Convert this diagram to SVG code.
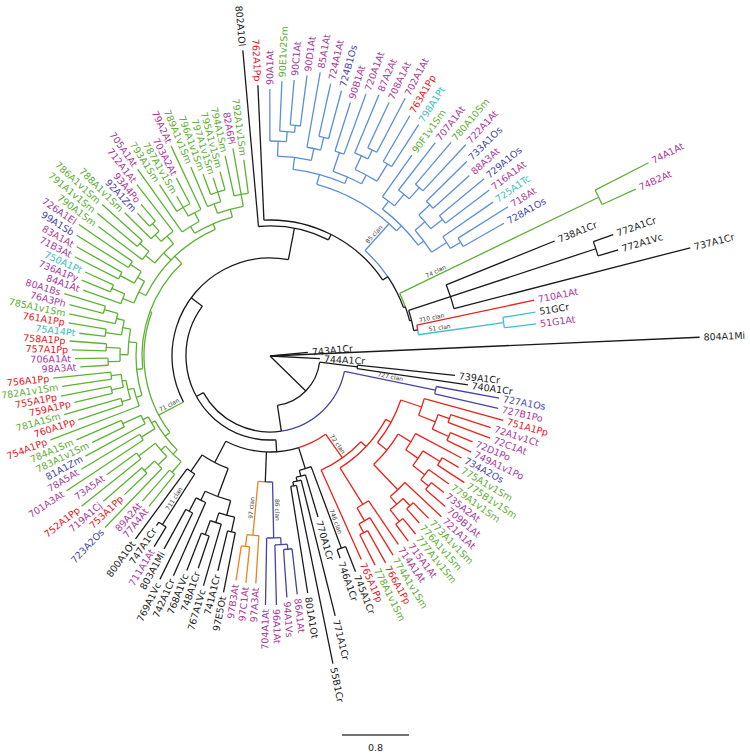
<svg xmlns="http://www.w3.org/2000/svg" width="750" height="754" viewBox="0 0 750 754">
<style>
.k,.lb,.g,.r,.db,.o,.c{fill:none;stroke-width:1.3}
.k{stroke:#1a1a1a}.lb{stroke:#5b8fd6}.g{stroke:#5db234}.r{stroke:#e8231a}.db{stroke:#4444a2}.o{stroke:#f0821e}.c{stroke:#3fc0c6}
text{font-family:"DejaVu Sans","Liberation Sans",sans-serif;font-size:9.5px;dominant-baseline:central}
.e{text-anchor:end}
.tk{fill:#1c1c1c}.tm{fill:#a93a9a}.tg{fill:#5dae33}.tr{fill:#e5161d}.tb{fill:#4848a6}.tc{fill:#3dbdc6}
.cl{font-size:6px;fill:#3a3a3a;text-anchor:middle;dominant-baseline:auto}
</style>
<rect width="750" height="754" fill="#fff"/>
<g transform="translate(270 356)">
<g id="connectors">
<circle class="k" r="50" pathLength="360" stroke-dasharray="74.28 400" transform="rotate(7.15)"/>
<circle class="k" r="88" pathLength="360" stroke-dasharray="2.3 400" transform="rotate(6)"/>
<circle class="db" r="76" pathLength="360" stroke-dasharray="69.77 400" transform="rotate(11.66)"/>
<circle class="k" r="76" pathLength="360" stroke-dasharray="69.77 400" transform="rotate(81.43)"/>
<circle class="db" r="169" pathLength="360" stroke-dasharray="2.52 400" transform="rotate(10.4)"/>
<circle class="k" r="84" pathLength="360" stroke-dasharray="130.4 400" transform="rotate(86)"/>
<circle class="r" r="96" pathLength="360" stroke-dasharray="18.02 400" transform="rotate(54.59)"/>
<circle class="k" r="96" pathLength="360" stroke-dasharray="44.81 400" transform="rotate(72.61)"/>
<circle class="r" r="125" pathLength="360" stroke-dasharray="22.5 400" transform="rotate(43.34)"/>
<circle class="r" r="132" pathLength="360" stroke-dasharray="29.26 400" transform="rotate(28.71)"/>
<circle class="r" r="138" pathLength="360" stroke-dasharray="20.24 400" transform="rotate(18.59)"/>
<circle class="r" r="160" pathLength="360" stroke-dasharray="6.3 400" transform="rotate(15.44)"/>
<circle class="r" r="178" pathLength="360" stroke-dasharray="5.04 400" transform="rotate(19.22)"/>
<circle class="r" r="190" pathLength="360" stroke-dasharray="2.52 400" transform="rotate(17.96)"/>
<circle class="r" r="196" pathLength="360" stroke-dasharray="2.52 400" transform="rotate(23)"/>
<circle class="r" r="150" pathLength="360" stroke-dasharray="14.96 400" transform="rotate(31.35)"/>
<circle class="r" r="165" pathLength="360" stroke-dasharray="6.62 400" transform="rotate(28.04)"/>
<circle class="r" r="180" pathLength="360" stroke-dasharray="5.67 400" transform="rotate(31.82)"/>
<circle class="r" r="200" pathLength="360" stroke-dasharray="2.52 400" transform="rotate(30.56)"/>
<circle class="r" r="195" pathLength="360" stroke-dasharray="3.78 400" transform="rotate(35.6)"/>
<circle class="r" r="205" pathLength="360" stroke-dasharray="2.52 400" transform="rotate(38.12)"/>
<circle class="r" r="185" pathLength="360" stroke-dasharray="6.3 400" transform="rotate(43.16)"/>
<circle class="r" r="195" pathLength="360" stroke-dasharray="5.04 400" transform="rotate(46.94)"/>
<circle class="r" r="205" pathLength="360" stroke-dasharray="2.52 400" transform="rotate(45.68)"/>
<circle class="r" r="210" pathLength="360" stroke-dasharray="2.52 400" transform="rotate(50.72)"/>
<circle class="r" r="175" pathLength="360" stroke-dasharray="4.41 400" transform="rotate(55.76)"/>
<circle class="r" r="190" pathLength="360" stroke-dasharray="3.78 400" transform="rotate(58.28)"/>
<circle class="r" r="200" pathLength="360" stroke-dasharray="2.52 400" transform="rotate(60.8)"/>
<circle class="k" r="118" pathLength="360" stroke-dasharray="5.98 400" transform="rotate(69.62)"/>
<circle class="k" r="205" pathLength="360" stroke-dasharray="2.52 400" transform="rotate(68.36)"/>
<circle class="k" r="124" pathLength="360" stroke-dasharray="4.41 400" transform="rotate(73.4)"/>
<circle class="k" r="128" pathLength="360" stroke-dasharray="3.78 400" transform="rotate(75.92)"/>
<circle class="k" r="132" pathLength="360" stroke-dasharray="2.52 400" transform="rotate(78.44)"/>
<circle class="db" r="126" pathLength="360" stroke-dasharray="3.31 400" transform="rotate(88.84)"/>
<circle class="o" r="126" pathLength="360" stroke-dasharray="3.3 400" transform="rotate(92.15)"/>
<circle class="db" r="182" pathLength="360" stroke-dasharray="4.41 400" transform="rotate(86.63)"/>
<circle class="db" r="189" pathLength="360" stroke-dasharray="3.78 400" transform="rotate(84.74)"/>
<circle class="db" r="194" pathLength="360" stroke-dasharray="2.52 400" transform="rotate(83.48)"/>
<circle class="o" r="180" pathLength="360" stroke-dasharray="3.78 400" transform="rotate(93.56)"/>
<circle class="o" r="192" pathLength="360" stroke-dasharray="2.52 400" transform="rotate(96.08)"/>
<circle class="k" r="120" pathLength="360" stroke-dasharray="14.02 400" transform="rotate(110.41)"/>
<circle class="k" r="150" pathLength="360" stroke-dasharray="10.39 400" transform="rotate(105.22)"/>
<circle class="k" r="165" pathLength="360" stroke-dasharray="5.67 400" transform="rotate(102.38)"/>
<circle class="k" r="180" pathLength="360" stroke-dasharray="2.52 400" transform="rotate(101.12)"/>
<circle class="k" r="175" pathLength="360" stroke-dasharray="3.78 400" transform="rotate(106.16)"/>
<circle class="k" r="190" pathLength="360" stroke-dasharray="2.52 400" transform="rotate(108.68)"/>
<circle class="k" r="160" pathLength="360" stroke-dasharray="3.78 400" transform="rotate(113.72)"/>
<circle class="k" r="175" pathLength="360" stroke-dasharray="2.52 400" transform="rotate(116.24)"/>
<circle class="k" r="140" pathLength="360" stroke-dasharray="3.78 400" transform="rotate(122.54)"/>
<circle class="k" r="200" pathLength="360" stroke-dasharray="2.52 400" transform="rotate(121.28)"/>
<circle class="k" r="98" pathLength="360" stroke-dasharray="128.8 400" transform="rotate(152)"/>
<circle class="g" r="126" pathLength="360" stroke-dasharray="57.67 400" transform="rotate(142.63)"/>
<circle class="g" r="132" pathLength="360" stroke-dasharray="15.91 400" transform="rotate(134.67)"/>
<circle class="g" r="138" pathLength="360" stroke-dasharray="9.14 400" transform="rotate(130.1)"/>
<circle class="g" r="152" pathLength="360" stroke-dasharray="2.52 400" transform="rotate(128.84)"/>
<circle class="g" r="144" pathLength="360" stroke-dasharray="6.93 400" transform="rotate(135.77)"/>
<circle class="g" r="156" pathLength="360" stroke-dasharray="3.78 400" transform="rotate(133.88)"/>
<circle class="g" r="170" pathLength="360" stroke-dasharray="2.52 400" transform="rotate(136.4)"/>
<circle class="g" r="165" pathLength="360" stroke-dasharray="2.52 400" transform="rotate(141.44)"/>
<circle class="g" r="136" pathLength="360" stroke-dasharray="5.67 400" transform="rotate(147.74)"/>
<circle class="g" r="152" pathLength="360" stroke-dasharray="2.52 400" transform="rotate(146.48)"/>
<circle class="g" r="142" pathLength="360" stroke-dasharray="3.78 400" transform="rotate(151.52)"/>
<circle class="g" r="162" pathLength="360" stroke-dasharray="2.52 400" transform="rotate(154.04)"/>
<circle class="g" r="128" pathLength="360" stroke-dasharray="52.05 400" transform="rotate(174.28)"/>
<circle class="g" r="134" pathLength="360" stroke-dasharray="22.84 400" transform="rotate(162.86)"/>
<circle class="g" r="140" pathLength="360" stroke-dasharray="7.56 400" transform="rotate(159.08)"/>
<circle class="g" r="146" pathLength="360" stroke-dasharray="7.56 400" transform="rotate(162.86)"/>
<circle class="g" r="155" pathLength="360" stroke-dasharray="2.52 400" transform="rotate(161.6)"/>
<circle class="g" r="150" pathLength="360" stroke-dasharray="5.04 400" transform="rotate(167.9)"/>
<circle class="g" r="162" pathLength="360" stroke-dasharray="2.52 400" transform="rotate(166.64)"/>
<circle class="g" r="160" pathLength="360" stroke-dasharray="2.52 400" transform="rotate(171.68)"/>
<circle class="g" r="142" pathLength="360" stroke-dasharray="10.4 400" transform="rotate(180.5)"/>
<circle class="g" r="150" pathLength="360" stroke-dasharray="5.04 400" transform="rotate(177.98)"/>
<circle class="g" r="162" pathLength="360" stroke-dasharray="2.52 400" transform="rotate(176.72)"/>
<circle class="g" r="164" pathLength="360" stroke-dasharray="2.52 400" transform="rotate(181.76)"/>
<circle class="g" r="150" pathLength="360" stroke-dasharray="5.67 400" transform="rotate(188.06)"/>
<circle class="g" r="166" pathLength="360" stroke-dasharray="2.52 400" transform="rotate(186.8)"/>
<circle class="g" r="158" pathLength="360" stroke-dasharray="3.78 400" transform="rotate(191.84)"/>
<circle class="g" r="172" pathLength="360" stroke-dasharray="2.52 400" transform="rotate(194.36)"/>
<circle class="g" r="138" pathLength="360" stroke-dasharray="40.65 400" transform="rotate(206)"/>
<circle class="g" r="146" pathLength="360" stroke-dasharray="9.45 400" transform="rotate(201.29)"/>
<circle class="g" r="158" pathLength="360" stroke-dasharray="3.78 400" transform="rotate(199.4)"/>
<circle class="g" r="172" pathLength="360" stroke-dasharray="2.52 400" transform="rotate(201.92)"/>
<circle class="g" r="154" pathLength="360" stroke-dasharray="5.04 400" transform="rotate(208.22)"/>
<circle class="g" r="170" pathLength="360" stroke-dasharray="2.52 400" transform="rotate(206.96)"/>
<circle class="g" r="167" pathLength="360" stroke-dasharray="2.52 400" transform="rotate(212)"/>
<circle class="g" r="148" pathLength="360" stroke-dasharray="10.4 400" transform="rotate(218.93)"/>
<circle class="g" r="160" pathLength="360" stroke-dasharray="3.78 400" transform="rotate(217.04)"/>
<circle class="g" r="172" pathLength="360" stroke-dasharray="2.52 400" transform="rotate(219.56)"/>
<circle class="g" r="158" pathLength="360" stroke-dasharray="5.67 400" transform="rotate(226.49)"/>
<circle class="g" r="167" pathLength="360" stroke-dasharray="3.78 400" transform="rotate(224.6)"/>
<circle class="g" r="177" pathLength="360" stroke-dasharray="2.52 400" transform="rotate(227.12)"/>
<circle class="g" r="144" pathLength="360" stroke-dasharray="16.38 400" transform="rotate(238.46)"/>
<circle class="g" r="152" pathLength="360" stroke-dasharray="7.56 400" transform="rotate(234.68)"/>
<circle class="g" r="162" pathLength="360" stroke-dasharray="5.04 400" transform="rotate(239.72)"/>
<circle class="g" r="172" pathLength="360" stroke-dasharray="5.04 400" transform="rotate(237.2)"/>
<circle class="g" r="152" pathLength="360" stroke-dasharray="10.08 400" transform="rotate(249.8)"/>
<circle class="g" r="162" pathLength="360" stroke-dasharray="5.04 400" transform="rotate(247.28)"/>
<circle class="g" r="172" pathLength="360" stroke-dasharray="5.04 400" transform="rotate(249.8)"/>
<circle class="g" r="164" pathLength="360" stroke-dasharray="5.04 400" transform="rotate(257.36)"/>
<circle class="k" r="130" pathLength="360" stroke-dasharray="31.78 400" transform="rotate(264.92)"/>
<circle class="k" r="136" pathLength="360" stroke-dasharray="58.59 400" transform="rotate(267.44)"/>
<circle class="lb" r="142" pathLength="360" stroke-dasharray="14.03 400" transform="rotate(312)"/>
<circle class="k" r="142" pathLength="360" stroke-dasharray="14.03 400" transform="rotate(326.03)"/>
<circle class="g" r="144" pathLength="360" stroke-dasharray="5.84 400" transform="rotate(334.22)"/>
<circle class="k" r="144" pathLength="360" stroke-dasharray="5.84 400" transform="rotate(340.06)"/>
<circle class="k" r="146" pathLength="360" stroke-dasharray="8.19 400" transform="rotate(341.78)"/>
<circle class="k" r="190" pathLength="360" stroke-dasharray="7.56 400" transform="rotate(338)"/>
<circle class="k" r="343" pathLength="360" stroke-dasharray="2.52 400" transform="rotate(340.52)"/>
<circle class="r" r="150" pathLength="360" stroke-dasharray="1.89 400" transform="rotate(348.08)"/>
<circle class="c" r="150" pathLength="360" stroke-dasharray="1.89 400" transform="rotate(349.97)"/>
<circle class="c" r="236" pathLength="360" stroke-dasharray="2.52 400" transform="rotate(350.6)"/>
<circle class="g" r="365" pathLength="360" stroke-dasharray="2.52 400" transform="rotate(332.96)"/>
<circle class="lb" r="178" pathLength="360" stroke-dasharray="30.06 400" transform="rotate(285.24)"/>
<circle class="lb" r="188" pathLength="360" stroke-dasharray="16.38 400" transform="rotate(277.05)"/>
<circle class="lb" r="200" pathLength="360" stroke-dasharray="9.76 400" transform="rotate(272.17)"/>
<circle class="lb" r="215" pathLength="360" stroke-dasharray="4.41 400" transform="rotate(269.96)"/>
<circle class="lb" r="225" pathLength="360" stroke-dasharray="3.78 400" transform="rotate(272.48)"/>
<circle class="lb" r="232" pathLength="360" stroke-dasharray="2.52 400" transform="rotate(275)"/>
<circle class="lb" r="212" pathLength="360" stroke-dasharray="3.78 400" transform="rotate(280.04)"/>
<circle class="lb" r="225" pathLength="360" stroke-dasharray="2.52 400" transform="rotate(282.56)"/>
<circle class="lb" r="195" pathLength="360" stroke-dasharray="9.14 400" transform="rotate(288.86)"/>
<circle class="lb" r="215" pathLength="360" stroke-dasharray="2.52 400" transform="rotate(287.6)"/>
<circle class="lb" r="205" pathLength="360" stroke-dasharray="6.93 400" transform="rotate(294.53)"/>
<circle class="lb" r="220" pathLength="360" stroke-dasharray="3.78 400" transform="rotate(292.64)"/>
<circle class="lb" r="230" pathLength="360" stroke-dasharray="2.52 400" transform="rotate(295.16)"/>
<circle class="lb" r="225" pathLength="360" stroke-dasharray="2.52 400" transform="rotate(300.2)"/>
<circle class="lb" r="185" pathLength="360" stroke-dasharray="15.75 400" transform="rotate(307.45)"/>
<circle class="lb" r="195" pathLength="360" stroke-dasharray="4.41 400" transform="rotate(305.24)"/>
<circle class="lb" r="210" pathLength="360" stroke-dasharray="3.78 400" transform="rotate(307.76)"/>
<circle class="lb" r="225" pathLength="360" stroke-dasharray="2.52 400" transform="rotate(310.28)"/>
<circle class="lb" r="192" pathLength="360" stroke-dasharray="8.19 400" transform="rotate(319.1)"/>
<circle class="lb" r="205" pathLength="360" stroke-dasharray="5.04 400" transform="rotate(316.58)"/>
<circle class="lb" r="220" pathLength="360" stroke-dasharray="2.52 400" transform="rotate(315.32)"/>
<circle class="lb" r="220" pathLength="360" stroke-dasharray="2.52 400" transform="rotate(320.36)"/>
<circle class="lb" r="210" pathLength="360" stroke-dasharray="3.78 400" transform="rotate(325.4)"/>
<circle class="lb" r="222" pathLength="360" stroke-dasharray="2.52 400" transform="rotate(327.92)"/>

<line class="k" x2="38" transform="rotate(-5.5)"/>
<line class="k" x2="430" transform="rotate(-2.5)"/>
<line class="k" x2="50" transform="rotate(3)"/>
<line class="k" x2="50" transform="rotate(44.29)"/>
<line class="k" x1="50" x2="88" transform="rotate(7.15)"/>
<line class="k" x1="50" x2="76" transform="rotate(81.43)"/>
<line class="k" x1="88" x2="186" transform="rotate(6)"/>
<line class="k" x1="88" x2="200" transform="rotate(8.3)"/>
<line class="db" x1="76" x2="169" transform="rotate(11.66)"/>
<line class="k" x1="76" x2="84" transform="rotate(151.2)"/>
<line class="db" x1="169" x2="233" transform="rotate(10.4)"/>
<line class="db" x1="169" x2="234" transform="rotate(12.92)"/>
<line class="k" x1="84" x2="96" transform="rotate(86)"/>
<line class="k" x1="84" x2="98" transform="rotate(216.4)"/>
<line class="r" x1="96" x2="125" transform="rotate(54.59)"/>
<line class="k" x1="96" x2="118" transform="rotate(72.61)"/>
<line class="k" x1="96" x2="126" transform="rotate(92.15)"/>
<line class="k" x1="96" x2="120" transform="rotate(117.42)"/>
<line class="r" x1="125" x2="132" transform="rotate(43.34)"/>
<line class="r" x1="125" x2="223" transform="rotate(65.84)"/>
<line class="r" x1="132" x2="138" transform="rotate(28.71)"/>
<line class="r" x1="132" x2="175" transform="rotate(57.97)"/>
<line class="r" x1="138" x2="160" transform="rotate(18.59)"/>
<line class="r" x1="138" x2="150" transform="rotate(38.83)"/>
<line class="r" x1="160" x2="242" transform="rotate(15.44)"/>
<line class="r" x1="160" x2="178" transform="rotate(21.74)"/>
<line class="r" x1="178" x2="190" transform="rotate(19.22)"/>
<line class="r" x1="178" x2="196" transform="rotate(24.26)"/>
<line class="r" x1="190" x2="232" transform="rotate(17.96)"/>
<line class="r" x1="190" x2="235" transform="rotate(20.48)"/>
<line class="r" x1="196" x2="220" transform="rotate(23)"/>
<line class="r" x1="196" x2="223" transform="rotate(25.52)"/>
<line class="r" x1="150" x2="165" transform="rotate(31.35)"/>
<line class="r" x1="150" x2="185" transform="rotate(46.31)"/>
<line class="r" x1="165" x2="217" transform="rotate(28.04)"/>
<line class="r" x1="165" x2="180" transform="rotate(34.66)"/>
<line class="r" x1="180" x2="200" transform="rotate(31.82)"/>
<line class="r" x1="180" x2="195" transform="rotate(37.49)"/>
<line class="r" x1="200" x2="219" transform="rotate(30.56)"/>
<line class="r" x1="200" x2="232" transform="rotate(33.08)"/>
<line class="r" x1="195" x2="220" transform="rotate(35.6)"/>
<line class="r" x1="195" x2="205" transform="rotate(39.38)"/>
<line class="r" x1="205" x2="221" transform="rotate(38.12)"/>
<line class="r" x1="205" x2="231" transform="rotate(40.64)"/>
<line class="r" x1="185" x2="235" transform="rotate(43.16)"/>
<line class="r" x1="185" x2="195" transform="rotate(49.46)"/>
<line class="r" x1="195" x2="205" transform="rotate(46.94)"/>
<line class="r" x1="195" x2="210" transform="rotate(51.98)"/>
<line class="r" x1="205" x2="227" transform="rotate(45.68)"/>
<line class="r" x1="205" x2="224" transform="rotate(48.2)"/>
<line class="r" x1="210" x2="230" transform="rotate(50.72)"/>
<line class="r" x1="210" x2="231" transform="rotate(53.24)"/>
<line class="r" x1="175" x2="228" transform="rotate(55.76)"/>
<line class="r" x1="175" x2="190" transform="rotate(60.17)"/>
<line class="r" x1="190" x2="234" transform="rotate(58.28)"/>
<line class="r" x1="190" x2="200" transform="rotate(62.06)"/>
<line class="r" x1="200" x2="237" transform="rotate(60.8)"/>
<line class="r" x1="200" x2="234" transform="rotate(63.32)"/>
<line class="k" x1="118" x2="205" transform="rotate(69.62)"/>
<line class="k" x1="118" x2="124" transform="rotate(75.6)"/>
<line class="k" x1="205" x2="232" transform="rotate(68.36)"/>
<line class="k" x1="205" x2="214" transform="rotate(70.88)"/>
<line class="k" x1="124" x2="168" transform="rotate(73.4)"/>
<line class="k" x1="124" x2="128" transform="rotate(77.81)"/>
<line class="k" x1="128" x2="268" transform="rotate(75.92)"/>
<line class="k" x1="128" x2="132" transform="rotate(79.7)"/>
<line class="k" x1="132" x2="314" transform="rotate(78.44)"/>
<line class="k" x1="132" x2="240" transform="rotate(80.96)"/>
<line class="db" x1="126" x2="182" transform="rotate(88.84)"/>
<line class="o" x1="126" x2="180" transform="rotate(95.45)"/>
<line class="db" x1="182" x2="189" transform="rotate(86.63)"/>
<line class="db" x1="182" x2="249" transform="rotate(91.04)"/>
<line class="db" x1="189" x2="194" transform="rotate(84.74)"/>
<line class="db" x1="189" x2="249" transform="rotate(88.52)"/>
<line class="db" x1="194" x2="240" transform="rotate(83.48)"/>
<line class="db" x1="194" x2="242" transform="rotate(86)"/>
<line class="o" x1="180" x2="228" transform="rotate(93.56)"/>
<line class="o" x1="180" x2="192" transform="rotate(97.34)"/>
<line class="o" x1="192" x2="228" transform="rotate(96.08)"/>
<line class="o" x1="192" x2="227" transform="rotate(98.6)"/>
<line class="k" x1="120" x2="150" transform="rotate(110.41)"/>
<line class="k" x1="120" x2="140" transform="rotate(124.43)"/>
<line class="k" x1="150" x2="165" transform="rotate(105.22)"/>
<line class="k" x1="150" x2="160" transform="rotate(115.61)"/>
<line class="k" x1="165" x2="180" transform="rotate(102.38)"/>
<line class="k" x1="165" x2="175" transform="rotate(108.05)"/>
<line class="k" x1="180" x2="241" transform="rotate(101.12)"/>
<line class="k" x1="180" x2="221" transform="rotate(103.64)"/>
<line class="k" x1="175" x2="239" transform="rotate(106.16)"/>
<line class="k" x1="175" x2="190" transform="rotate(109.94)"/>
<line class="k" x1="190" x2="224" transform="rotate(108.68)"/>
<line class="k" x1="190" x2="230" transform="rotate(111.2)"/>
<line class="k" x1="160" x2="240" transform="rotate(113.72)"/>
<line class="k" x1="160" x2="175" transform="rotate(117.5)"/>
<line class="k" x1="175" x2="249" transform="rotate(116.24)"/>
<line class="k" x1="175" x2="220" transform="rotate(118.76)"/>
<line class="k" x1="140" x2="200" transform="rotate(122.54)"/>
<line class="k" x1="140" x2="227" transform="rotate(126.32)"/>
<line class="k" x1="200" x2="223" transform="rotate(121.28)"/>
<line class="k" x1="200" x2="204" transform="rotate(123.8)"/>
<line class="g" x1="98" x2="126" transform="rotate(152)"/>
<line class="k" x1="98" x2="130" transform="rotate(280.8)"/>
<line class="g" x1="126" x2="132" transform="rotate(142.63)"/>
<line class="g" x1="126" x2="128" transform="rotate(200.3)"/>
<line class="g" x1="132" x2="138" transform="rotate(134.67)"/>
<line class="g" x1="132" x2="136" transform="rotate(150.58)"/>
<line class="g" x1="138" x2="152" transform="rotate(130.1)"/>
<line class="g" x1="138" x2="144" transform="rotate(139.24)"/>
<line class="g" x1="152" x2="193" transform="rotate(128.84)"/>
<line class="g" x1="152" x2="193" transform="rotate(131.36)"/>
<line class="g" x1="144" x2="156" transform="rotate(135.77)"/>
<line class="g" x1="144" x2="165" transform="rotate(142.7)"/>
<line class="g" x1="156" x2="238" transform="rotate(133.88)"/>
<line class="g" x1="156" x2="170" transform="rotate(137.66)"/>
<line class="g" x1="170" x2="201" transform="rotate(136.4)"/>
<line class="g" x1="170" x2="221" transform="rotate(138.92)"/>
<line class="g" x1="165" x2="241" transform="rotate(141.44)"/>
<line class="g" x1="165" x2="202" transform="rotate(143.96)"/>
<line class="g" x1="136" x2="152" transform="rotate(147.74)"/>
<line class="g" x1="136" x2="142" transform="rotate(153.41)"/>
<line class="g" x1="152" x2="244" transform="rotate(146.48)"/>
<line class="g" x1="152" x2="220" transform="rotate(149)"/>
<line class="g" x1="142" x2="210" transform="rotate(151.52)"/>
<line class="g" x1="142" x2="162" transform="rotate(155.3)"/>
<line class="g" x1="162" x2="198" transform="rotate(154.04)"/>
<line class="g" x1="162" x2="211" transform="rotate(156.56)"/>
<line class="g" x1="128" x2="134" transform="rotate(174.28)"/>
<line class="g" x1="128" x2="138" transform="rotate(226.33)"/>
<line class="g" x1="134" x2="140" transform="rotate(162.86)"/>
<line class="g" x1="134" x2="142" transform="rotate(185.7)"/>
<line class="g" x1="140" x2="235" transform="rotate(159.08)"/>
<line class="g" x1="140" x2="146" transform="rotate(166.64)"/>
<line class="g" x1="146" x2="155" transform="rotate(162.86)"/>
<line class="g" x1="146" x2="150" transform="rotate(170.42)"/>
<line class="g" x1="155" x2="202" transform="rotate(161.6)"/>
<line class="g" x1="155" x2="214" transform="rotate(164.12)"/>
<line class="g" x1="150" x2="162" transform="rotate(167.9)"/>
<line class="g" x1="150" x2="160" transform="rotate(172.94)"/>
<line class="g" x1="162" x2="201" transform="rotate(166.64)"/>
<line class="g" x1="162" x2="213" transform="rotate(169.16)"/>
<line class="g" x1="160" x2="210" transform="rotate(171.68)"/>
<line class="g" x1="160" x2="218" transform="rotate(174.2)"/>
<line class="g" x1="142" x2="150" transform="rotate(180.5)"/>
<line class="g" x1="142" x2="150" transform="rotate(190.9)"/>
<line class="g" x1="150" x2="162" transform="rotate(177.98)"/>
<line class="g" x1="150" x2="164" transform="rotate(183.02)"/>
<line class="g" x1="162" x2="190" transform="rotate(176.72)"/>
<line class="g" x1="162" x2="195" transform="rotate(179.24)"/>
<line class="g" x1="164" x2="198" transform="rotate(181.76)"/>
<line class="g" x1="164" x2="201" transform="rotate(184.28)"/>
<line class="g" x1="150" x2="166" transform="rotate(188.06)"/>
<line class="g" x1="150" x2="158" transform="rotate(193.73)"/>
<line class="g" x1="166" x2="192" transform="rotate(186.8)"/>
<line class="g" x1="166" x2="204" transform="rotate(189.32)"/>
<line class="g" x1="158" x2="205" transform="rotate(191.84)"/>
<line class="g" x1="158" x2="172" transform="rotate(195.62)"/>
<line class="g" x1="172" x2="207" transform="rotate(194.36)"/>
<line class="g" x1="172" x2="215" transform="rotate(196.88)"/>
<line class="g" x1="138" x2="146" transform="rotate(206)"/>
<line class="g" x1="138" x2="148" transform="rotate(224.13)"/>
<line class="g" x1="138" x2="144" transform="rotate(246.65)"/>
<line class="g" x1="146" x2="158" transform="rotate(201.29)"/>
<line class="g" x1="146" x2="154" transform="rotate(210.74)"/>
<line class="g" x1="158" x2="198" transform="rotate(199.4)"/>
<line class="g" x1="158" x2="172" transform="rotate(203.18)"/>
<line class="g" x1="172" x2="203" transform="rotate(201.92)"/>
<line class="g" x1="172" x2="203" transform="rotate(204.44)"/>
<line class="g" x1="154" x2="170" transform="rotate(208.22)"/>
<line class="g" x1="154" x2="167" transform="rotate(213.26)"/>
<line class="g" x1="170" x2="219" transform="rotate(206.96)"/>
<line class="g" x1="170" x2="222" transform="rotate(209.48)"/>
<line class="g" x1="167" x2="228" transform="rotate(212)"/>
<line class="g" x1="167" x2="232" transform="rotate(214.52)"/>
<line class="g" x1="148" x2="160" transform="rotate(218.93)"/>
<line class="g" x1="148" x2="158" transform="rotate(229.33)"/>
<line class="g" x1="160" x2="215" transform="rotate(217.04)"/>
<line class="g" x1="160" x2="172" transform="rotate(220.82)"/>
<line class="g" x1="172" x2="224" transform="rotate(219.56)"/>
<line class="g" x1="172" x2="226" transform="rotate(222.08)"/>
<line class="g" x1="158" x2="167" transform="rotate(226.49)"/>
<line class="g" x1="158" x2="217" transform="rotate(232.16)"/>
<line class="g" x1="167" x2="204" transform="rotate(224.6)"/>
<line class="g" x1="167" x2="177" transform="rotate(228.38)"/>
<line class="g" x1="177" x2="195" transform="rotate(227.12)"/>
<line class="g" x1="177" x2="199" transform="rotate(229.64)"/>
<line class="g" x1="144" x2="152" transform="rotate(238.46)"/>
<line class="g" x1="144" x2="152" transform="rotate(254.84)"/>
<line class="g" x1="152" x2="229" transform="rotate(234.68)"/>
<line class="g" x1="152" x2="162" transform="rotate(242.24)"/>
<line class="g" x1="162" x2="172" transform="rotate(239.72)"/>
<line class="g" x1="162" x2="232" transform="rotate(244.76)"/>
<line class="g" x1="172" x2="204" transform="rotate(237.2)"/>
<line class="g" x1="172" x2="185" transform="rotate(239.72)"/>
<line class="g" x1="172" x2="201" transform="rotate(242.24)"/>
<line class="g" x1="152" x2="162" transform="rotate(249.8)"/>
<line class="g" x1="152" x2="164" transform="rotate(259.88)"/>
<line class="g" x1="162" x2="205" transform="rotate(247.28)"/>
<line class="g" x1="162" x2="172" transform="rotate(252.32)"/>
<line class="g" x1="172" x2="194" transform="rotate(249.8)"/>
<line class="g" x1="172" x2="187" transform="rotate(252.32)"/>
<line class="g" x1="172" x2="191" transform="rotate(254.84)"/>
<line class="g" x1="164" x2="205" transform="rotate(257.36)"/>
<line class="g" x1="164" x2="211" transform="rotate(259.88)"/>
<line class="g" x1="164" x2="198" transform="rotate(262.4)"/>
<line class="k" x1="130" x2="307" transform="rotate(264.92)"/>
<line class="k" x1="130" x2="136" transform="rotate(296.7)"/>
<line class="k" x1="136" x2="271" transform="rotate(267.44)"/>
<line class="k" x1="136" x2="142" transform="rotate(326.03)"/>
<line class="lb" x1="142" x2="178" transform="rotate(312)"/>
<line class="k" x1="142" x2="144" transform="rotate(340.06)"/>
<line class="g" x1="144" x2="365" transform="rotate(334.22)"/>
<line class="k" x1="144" x2="146" transform="rotate(345.9)"/>
<line class="k" x1="146" x2="190" transform="rotate(341.78)"/>
<line class="k" x1="146" x2="150" transform="rotate(349.97)"/>
<line class="k" x1="190" x2="307" transform="rotate(338)"/>
<line class="k" x1="190" x2="343" transform="rotate(341.78)"/>
<line class="k" x1="190" x2="434" transform="rotate(345.56)"/>
<line class="k" x1="343" x2="364" transform="rotate(340.52)"/>
<line class="k" x1="343" x2="364" transform="rotate(343.04)"/>
<line class="r" x1="150" x2="270" transform="rotate(348.08)"/>
<line class="c" x1="150" x2="236" transform="rotate(351.86)"/>
<line class="c" x1="236" x2="269" transform="rotate(350.6)"/>
<line class="c" x1="236" x2="268" transform="rotate(353.12)"/>
<line class="g" x1="365" x2="425" transform="rotate(332.96)"/>
<line class="g" x1="365" x2="402" transform="rotate(335.48)"/>
<line class="lb" x1="178" x2="188" transform="rotate(285.24)"/>
<line class="lb" x1="178" x2="185" transform="rotate(315.3)"/>
<line class="lb" x1="188" x2="200" transform="rotate(277.05)"/>
<line class="lb" x1="188" x2="195" transform="rotate(293.43)"/>
<line class="lb" x1="200" x2="215" transform="rotate(272.17)"/>
<line class="lb" x1="200" x2="212" transform="rotate(281.93)"/>
<line class="lb" x1="215" x2="267" transform="rotate(269.96)"/>
<line class="lb" x1="215" x2="225" transform="rotate(274.37)"/>
<line class="lb" x1="225" x2="275" transform="rotate(272.48)"/>
<line class="lb" x1="225" x2="232" transform="rotate(276.26)"/>
<line class="lb" x1="232" x2="277" transform="rotate(275)"/>
<line class="lb" x1="232" x2="283" transform="rotate(277.52)"/>
<line class="lb" x1="212" x2="288" transform="rotate(280.04)"/>
<line class="lb" x1="212" x2="225" transform="rotate(283.82)"/>
<line class="lb" x1="225" x2="279" transform="rotate(282.56)"/>
<line class="lb" x1="225" x2="275" transform="rotate(285.08)"/>
<line class="lb" x1="195" x2="215" transform="rotate(288.86)"/>
<line class="lb" x1="195" x2="205" transform="rotate(298)"/>
<line class="lb" x1="215" x2="266" transform="rotate(287.6)"/>
<line class="lb" x1="215" x2="279" transform="rotate(290.12)"/>
<line class="lb" x1="205" x2="220" transform="rotate(294.53)"/>
<line class="lb" x1="205" x2="225" transform="rotate(301.46)"/>
<line class="lb" x1="220" x2="283" transform="rotate(292.64)"/>
<line class="lb" x1="220" x2="230" transform="rotate(296.42)"/>
<line class="lb" x1="230" x2="280" transform="rotate(295.16)"/>
<line class="lb" x1="230" x2="291" transform="rotate(297.68)"/>
<line class="lb" x1="225" x2="278" transform="rotate(300.2)"/>
<line class="lb" x1="225" x2="275" transform="rotate(302.72)"/>
<line class="lb" x1="185" x2="195" transform="rotate(307.45)"/>
<line class="lb" x1="185" x2="192" transform="rotate(323.2)"/>
<line class="lb" x1="195" x2="246" transform="rotate(305.24)"/>
<line class="lb" x1="195" x2="210" transform="rotate(309.65)"/>
<line class="lb" x1="210" x2="270" transform="rotate(307.76)"/>
<line class="lb" x1="210" x2="225" transform="rotate(311.54)"/>
<line class="lb" x1="225" x2="280" transform="rotate(310.28)"/>
<line class="lb" x1="225" x2="288" transform="rotate(312.8)"/>
<line class="lb" x1="192" x2="205" transform="rotate(319.1)"/>
<line class="lb" x1="192" x2="210" transform="rotate(327.29)"/>
<line class="lb" x1="205" x2="220" transform="rotate(316.58)"/>
<line class="lb" x1="205" x2="220" transform="rotate(321.62)"/>
<line class="lb" x1="220" x2="277" transform="rotate(315.32)"/>
<line class="lb" x1="220" x2="269" transform="rotate(317.84)"/>
<line class="lb" x1="220" x2="278" transform="rotate(320.36)"/>
<line class="lb" x1="220" x2="275" transform="rotate(322.88)"/>
<line class="lb" x1="210" x2="271" transform="rotate(325.4)"/>
<line class="lb" x1="210" x2="222" transform="rotate(329.18)"/>
<line class="lb" x1="222" x2="281" transform="rotate(327.92)"/>
<line class="lb" x1="222" x2="269" transform="rotate(330.44)"/>
</g>
<g id="clan-labels">
<text class="cl" x="122" y="-2" transform="rotate(11.66)">727 clan</text>
<text class="cl" x="111" y="-2" transform="rotate(54.59)">72 clan</text>
<text class="cl" x="178" y="-2" transform="rotate(69.62)">746 clan</text>
<text class="cl" x="154" y="-2" transform="rotate(88.84)">86 clan</text>
<text class="cl" x="-153" y="-2" transform="rotate(-84.55)">97 clan</text>
<text class="cl" x="-172" y="-2" transform="rotate(-57.46)">711 clan</text>
<text class="cl" x="-112" y="-2" transform="rotate(-28)">71 clan</text>
<text class="cl" x="160" y="-2" transform="rotate(312)">85 clan</text>
<text class="cl" x="186" y="-2" transform="rotate(334.22)">74 clan</text>
<text class="cl" x="166" y="-2" transform="rotate(348.08)">710 clan</text>
<text class="cl" x="172" y="-2" transform="rotate(351.86)">51 clan</text>
</g>
<g id="n-743A1Cr"><text class="tk" x="42" transform="rotate(-5.5)">743A1Cr</text></g>
<g id="n-804A1Mi"><text class="tk" x="434" transform="rotate(-2.5)">804A1Mi</text></g>
<g id="n-744A1Cr"><text class="tk" x="54" transform="rotate(3)">744A1Cr</text></g>
<g id="n-739A1Cr"><text class="tk" x="190" transform="rotate(6)">739A1Cr</text></g>
<g id="n-740A1Cr"><text class="tk" x="204" transform="rotate(8.3)">740A1Cr</text></g>
<g id="n-727A1Os"><text class="tb" x="237" transform="rotate(10.4)">727A1Os</text></g>
<g id="n-727B1Po"><text class="tm" x="238" transform="rotate(12.92)">727B1Po</text></g>
<g id="n-751A1Pp"><text class="tr" x="246" transform="rotate(15.44)">751A1Pp</text></g>
<g id="n-72A1v1Ct"><text class="tm" x="236" transform="rotate(17.96)">72A1v1Ct</text></g>
<g id="n-72C1At"><text class="tm" x="239" transform="rotate(20.48)">72C1At</text></g>
<g id="n-72D1Po"><text class="tm" x="224" transform="rotate(23)">72D1Po</text></g>
<g id="n-749A1v1Po"><text class="tm" x="227" transform="rotate(25.52)">749A1v1Po</text></g>
<g id="n-734A2Os"><text class="tb" x="221" transform="rotate(28.04)">734A2Os</text></g>
<g id="n-775A1v1Sm"><text class="tg" x="223" transform="rotate(30.56)">775A1v1Sm</text></g>
<g id="n-775B1v1Sm"><text class="tg" x="236" transform="rotate(33.08)">775B1v1Sm</text></g>
<g id="n-779A1v1Sm"><text class="tg" x="224" transform="rotate(35.6)">779A1v1Sm</text></g>
<g id="n-735A2At"><text class="tm" x="225" transform="rotate(38.12)">735A2At</text></g>
<g id="n-709B1At"><text class="tm" x="235" transform="rotate(40.64)">709B1At</text></g>
<g id="n-721A1At"><text class="tm" x="239" transform="rotate(43.16)">721A1At</text></g>
<g id="n-773A1v1Sm"><text class="tg" x="231" transform="rotate(45.68)">773A1v1Sm</text></g>
<g id="n-776A1v1Sm"><text class="tg" x="228" transform="rotate(48.2)">776A1v1Sm</text></g>
<g id="n-777A1v1Sm"><text class="tg" x="234" transform="rotate(50.72)">777A1v1Sm</text></g>
<g id="n-715A1At"><text class="tm" x="235" transform="rotate(53.24)">715A1At</text></g>
<g id="n-714A1At"><text class="tm" x="232" transform="rotate(55.76)">714A1At</text></g>
<g id="n-774A1v1Sm"><text class="tg" x="238" transform="rotate(58.28)">774A1v1Sm</text></g>
<g id="n-766A1Pp"><text class="tr" x="241" transform="rotate(60.8)">766A1Pp</text></g>
<g id="n-778A1v1Sm"><text class="tg" x="238" transform="rotate(63.32)">778A1v1Sm</text></g>
<g id="n-765A1Pp"><text class="tr" x="227" transform="rotate(65.84)">765A1Pp</text></g>
<g id="n-745A1Cr"><text class="tk" x="236" transform="rotate(68.36)">745A1Cr</text></g>
<g id="n-746A1Cr"><text class="tk" x="218" transform="rotate(70.88)">746A1Cr</text></g>
<g id="n-770A1Cr"><text class="tk" x="172" transform="rotate(73.4)">770A1Cr</text></g>
<g id="n-771A1Cr"><text class="tk" x="272" transform="rotate(75.92)">771A1Cr</text></g>
<g id="n-55B1Cr"><text class="tk" x="318" transform="rotate(78.44)">55B1Cr</text></g>
<g id="n-801A1Ot"><text class="tk" x="244" transform="rotate(80.96)">801A1Ot</text></g>
<g id="n-86A1At"><text class="tm" x="244" transform="rotate(83.48)">86A1At</text></g>
<g id="n-94A1Vs"><text class="tm" x="246" transform="rotate(86)">94A1Vs</text></g>
<g id="n-96A1At"><text class="tm" x="253" transform="rotate(88.52)">96A1At</text></g>
<g id="n-704A1At"><text class="tm e" x="-253" transform="rotate(-88.96)">704A1At</text></g>
<g id="n-97A3At"><text class="tm e" x="-232" transform="rotate(-86.44)">97A3At</text></g>
<g id="n-97C1At"><text class="tm e" x="-232" transform="rotate(-83.92)">97C1At</text></g>
<g id="n-97B3At"><text class="tm e" x="-231" transform="rotate(-81.4)">97B3At</text></g>
<g id="n-97E5Ot"><text class="tk e" x="-245" transform="rotate(-78.88)">97E5Ot</text></g>
<g id="n-741A1Cr"><text class="tk e" x="-225" transform="rotate(-76.36)">741A1Cr</text></g>
<g id="n-767A1Vc"><text class="tk e" x="-243" transform="rotate(-73.84)">767A1Vc</text></g>
<g id="n-748A1Cr"><text class="tk e" x="-228" transform="rotate(-71.32)">748A1Cr</text></g>
<g id="n-768A1Vc"><text class="tk e" x="-234" transform="rotate(-68.8)">768A1Vc</text></g>
<g id="n-742A1Cr"><text class="tk e" x="-244" transform="rotate(-66.28)">742A1Cr</text></g>
<g id="n-769A1Vc"><text class="tk e" x="-253" transform="rotate(-63.76)">769A1Vc</text></g>
<g id="n-803A1Mi"><text class="tk e" x="-224" transform="rotate(-61.24)">803A1Mi</text></g>
<g id="n-711A1At"><text class="tm e" x="-227" transform="rotate(-58.72)">711A1At</text></g>
<g id="n-747A1Cr"><text class="tk e" x="-208" transform="rotate(-56.2)">747A1Cr</text></g>
<g id="n-800A1Ot"><text class="tk e" x="-231" transform="rotate(-53.68)">800A1Ot</text></g>
<g id="n-77A4At"><text class="tm e" x="-197" transform="rotate(-51.16)">77A4At</text></g>
<g id="n-89A2At"><text class="tm e" x="-197" transform="rotate(-48.64)">89A2At</text></g>
<g id="n-723A2Os"><text class="tb e" x="-242" transform="rotate(-46.12)">723A2Os</text></g>
<g id="n-753A1Pp"><text class="tr e" x="-205" transform="rotate(-43.6)">753A1Pp</text></g>
<g id="n-719A1Cj"><text class="tm e" x="-225" transform="rotate(-41.08)">719A1Cj</text></g>
<g id="n-752A1Pp"><text class="tr e" x="-245" transform="rotate(-38.56)">752A1Pp</text></g>
<g id="n-73A5At"><text class="tm e" x="-206" transform="rotate(-36.04)">73A5At</text></g>
<g id="n-701A3At"><text class="tm e" x="-248" transform="rotate(-33.52)">701A3At</text></g>
<g id="n-78A5At"><text class="tm e" x="-224" transform="rotate(-31)">78A5At</text></g>
<g id="n-81A1Zm"><text class="tb e" x="-214" transform="rotate(-28.48)">81A1Zm</text></g>
<g id="n-783A1v1Sm"><text class="tg e" x="-202" transform="rotate(-25.96)">783A1v1Sm</text></g>
<g id="n-784A1Sm"><text class="tg e" x="-215" transform="rotate(-23.44)">784A1Sm</text></g>
<g id="n-754A1Pp"><text class="tr e" x="-239" transform="rotate(-20.92)">754A1Pp</text></g>
<g id="n-760A1Pp"><text class="tr e" x="-206" transform="rotate(-18.4)">760A1Pp</text></g>
<g id="n-781A1Sm"><text class="tg e" x="-218" transform="rotate(-15.88)">781A1Sm</text></g>
<g id="n-759A1Pp"><text class="tr e" x="-205" transform="rotate(-13.36)">759A1Pp</text></g>
<g id="n-755A1Pp"><text class="tr e" x="-217" transform="rotate(-10.84)">755A1Pp</text></g>
<g id="n-782A1v1Sm"><text class="tg e" x="-214" transform="rotate(-8.32)">782A1v1Sm</text></g>
<g id="n-756A1Pp"><text class="tr e" x="-222" transform="rotate(-5.8)">756A1Pp</text></g>
<g id="n-98A3At"><text class="tm e" x="-194" transform="rotate(-3.28)">98A3At</text></g>
<g id="n-706A1At"><text class="tm e" x="-199" transform="rotate(-0.76)">706A1At</text></g>
<g id="n-757A1Pp"><text class="tr e" x="-202" transform="rotate(1.76)">757A1Pp</text></g>
<g id="n-758A1Pp"><text class="tr e" x="-205" transform="rotate(4.28)">758A1Pp</text></g>
<g id="n-75A14Pt"><text class="tc e" x="-196" transform="rotate(6.8)">75A14Pt</text></g>
<g id="n-761A1Pp"><text class="tr e" x="-208" transform="rotate(9.32)">761A1Pp</text></g>
<g id="n-785A1v1Sm"><text class="tg e" x="-209" transform="rotate(11.84)">785A1v1Sm</text></g>
<g id="n-76A3Ph"><text class="tm e" x="-211" transform="rotate(14.36)">76A3Ph</text></g>
<g id="n-80A1Bs"><text class="tm e" x="-219" transform="rotate(16.88)">80A1Bs</text></g>
<g id="n-84A1At"><text class="tm e" x="-202" transform="rotate(19.4)">84A1At</text></g>
<g id="n-736A1Py"><text class="tm e" x="-207" transform="rotate(21.92)">736A1Py</text></g>
<g id="n-750A1Pt"><text class="tc e" x="-207" transform="rotate(24.44)">750A1Pt</text></g>
<g id="n-71B3At"><text class="tm e" x="-223" transform="rotate(26.96)">71B3At</text></g>
<g id="n-83A1At"><text class="tm e" x="-226" transform="rotate(29.48)">83A1At</text></g>
<g id="n-99A1Sb"><text class="tb e" x="-232" transform="rotate(32)">99A1Sb</text></g>
<g id="n-726A1El"><text class="tm e" x="-236" transform="rotate(34.52)">726A1El</text></g>
<g id="n-790A1Sm"><text class="tg e" x="-219" transform="rotate(37.04)">790A1Sm</text></g>
<g id="n-791A1v1Sm"><text class="tg e" x="-228" transform="rotate(39.56)">791A1v1Sm</text></g>
<g id="n-786A1v1Sm"><text class="tg e" x="-230" transform="rotate(42.08)">786A1v1Sm</text></g>
<g id="n-788A1v1Sm"><text class="tg e" x="-208" transform="rotate(44.6)">788A1v1Sm</text></g>
<g id="n-92A1Zm"><text class="tb e" x="-199" transform="rotate(47.12)">92A1Zm</text></g>
<g id="n-93A4Po"><text class="tm e" x="-203" transform="rotate(49.64)">93A4Po</text></g>
<g id="n-712A1At"><text class="tm e" x="-221" transform="rotate(52.16)">712A1At</text></g>
<g id="n-705A1At"><text class="tm e" x="-233" transform="rotate(54.68)">705A1At</text></g>
<g id="n-793A1Sm"><text class="tg e" x="-208" transform="rotate(57.2)">793A1Sm</text></g>
<g id="n-787A1v1Sm"><text class="tg e" x="-189" transform="rotate(59.72)">787A1v1Sm</text></g>
<g id="n-703A2At"><text class="tm e" x="-205" transform="rotate(62.24)">703A2At</text></g>
<g id="n-79A2At"><text class="tm e" x="-236" transform="rotate(64.76)">79A2At</text></g>
<g id="n-789A1v1Sm"><text class="tg e" x="-209" transform="rotate(67.28)">789A1v1Sm</text></g>
<g id="n-796A1v1Sm"><text class="tg e" x="-198" transform="rotate(69.8)">796A1v1Sm</text></g>
<g id="n-797A1v1Sm"><text class="tg e" x="-191" transform="rotate(72.32)">797A1v1Sm</text></g>
<g id="n-795A1v1Sm"><text class="tg e" x="-195" transform="rotate(74.84)">795A1v1Sm</text></g>
<g id="n-794A1Sm"><text class="tg e" x="-209" transform="rotate(77.36)">794A1Sm</text></g>
<g id="n-82A6Pi"><text class="tm e" x="-215" transform="rotate(79.88)">82A6Pi</text></g>
<g id="n-792A1v1Sm"><text class="tg e" x="-202" transform="rotate(82.4)">792A1v1Sm</text></g>
<g id="n-802A1Ol"><text class="tk e" x="-311" transform="rotate(84.92)">802A1Ol</text></g>
<g id="n-762A1Pp"><text class="tr e" x="-275" transform="rotate(87.44)">762A1Pp</text></g>
<g id="n-90A1At"><text class="tm" x="271" transform="rotate(269.96)">90A1At</text></g>
<g id="n-90E1v2Sm"><text class="tg" x="279" transform="rotate(272.48)">90E1v2Sm</text></g>
<g id="n-90C1At"><text class="tm" x="281" transform="rotate(275)">90C1At</text></g>
<g id="n-90D1At"><text class="tm" x="287" transform="rotate(277.52)">90D1At</text></g>
<g id="n-85A1At"><text class="tm" x="292" transform="rotate(280.04)">85A1At</text></g>
<g id="n-724A1At"><text class="tm" x="283" transform="rotate(282.56)">724A1At</text></g>
<g id="n-724B1Os"><text class="tb" x="279" transform="rotate(285.08)">724B1Os</text></g>
<g id="n-90B1At"><text class="tm" x="270" transform="rotate(287.6)">90B1At</text></g>
<g id="n-720A1At"><text class="tm" x="283" transform="rotate(290.12)">720A1At</text></g>
<g id="n-87A2At"><text class="tm" x="287" transform="rotate(292.64)">87A2At</text></g>
<g id="n-708A1At"><text class="tm" x="284" transform="rotate(295.16)">708A1At</text></g>
<g id="n-702A1At"><text class="tm" x="295" transform="rotate(297.68)">702A1At</text></g>
<g id="n-763A1Pp"><text class="tr" x="282" transform="rotate(300.2)">763A1Pp</text></g>
<g id="n-798A1Pt"><text class="tc" x="279" transform="rotate(302.72)">798A1Pt</text></g>
<g id="n-90F1v1Sm"><text class="tg" x="250" transform="rotate(305.24)">90F1v1Sm</text></g>
<g id="n-707A1At"><text class="tm" x="274" transform="rotate(307.76)">707A1At</text></g>
<g id="n-780A10Sm"><text class="tg" x="284" transform="rotate(310.28)">780A10Sm</text></g>
<g id="n-722A1At"><text class="tm" x="292" transform="rotate(312.8)">722A1At</text></g>
<g id="n-733A1Os"><text class="tb" x="281" transform="rotate(315.32)">733A1Os</text></g>
<g id="n-88A3At"><text class="tm" x="273" transform="rotate(317.84)">88A3At</text></g>
<g id="n-729A1Os"><text class="tb" x="282" transform="rotate(320.36)">729A1Os</text></g>
<g id="n-716A1At"><text class="tm" x="279" transform="rotate(322.88)">716A1At</text></g>
<g id="n-725A1Tc"><text class="tc" x="275" transform="rotate(325.4)">725A1Tc</text></g>
<g id="n-718At"><text class="tm" x="285" transform="rotate(327.92)">718At</text></g>
<g id="n-728A1Os"><text class="tb" x="273" transform="rotate(330.44)">728A1Os</text></g>
<g id="n-74A1At"><text class="tm" x="429" transform="rotate(332.96)">74A1At</text></g>
<g id="n-74B2At"><text class="tm" x="406" transform="rotate(335.48)">74B2At</text></g>
<g id="n-738A1Cr"><text class="tk" x="311" transform="rotate(338)">738A1Cr</text></g>
<g id="n-772A1Cr"><text class="tk" x="368" transform="rotate(340.52)">772A1Cr</text></g>
<g id="n-772A1Vc"><text class="tk" x="368" transform="rotate(343.04)">772A1Vc</text></g>
<g id="n-737A1Cr"><text class="tk" x="438" transform="rotate(345.56)">737A1Cr</text></g>
<g id="n-710A1At"><text class="tm" x="274" transform="rotate(348.08)">710A1At</text></g>
<g id="n-51GCr"><text class="tk" x="273" transform="rotate(350.6)">51GCr</text></g>
<g id="n-51G1At"><text class="tm" x="272" transform="rotate(353.12)">51G1At</text></g>
</g>
<g id="scale-bar">
<line x1="342" y1="735" x2="409" y2="735" stroke="#444" stroke-width="1.6"/>
<text x="375.5" y="751" font-size="12.5px" text-anchor="middle" fill="#222" style="dominant-baseline:auto">0.8</text>
</g>
</svg>
